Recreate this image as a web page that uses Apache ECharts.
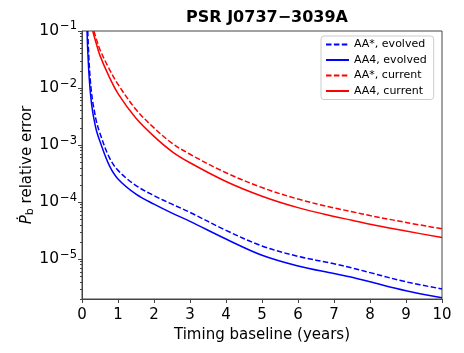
<!DOCTYPE html>
<html><head><meta charset="utf-8">
<script src="https://cdn.jsdelivr.net/npm/echarts@6/dist/echarts.min.js"></script>
<style>html,body{margin:0;padding:0;background:#fff}#c{width:464px;height:353px}</style>
</head><body><div id="c"></div>
<script>
const years = [0.14,0.16,0.2,0.25,0.3,0.33,0.4,0.5,0.75,1,1.5,2,2.5,3,4,5,6,7,7.5,8,9,10];
const aaStarEvolved = [null,0.1,2.6e-2,1.0e-2,5.6e-3,4.4e-3,2.6e-3,1.6e-3,6.2e-4,3.6e-4,1.95e-4,1.3e-4,9.2e-5,6.6e-5,3.2e-5,1.7e-5,1.12e-5,8.3e-6,7.0e-6,5.8e-6,4.0e-6,3.0e-6];
const aa4Evolved = [0.1,0.045,1.5e-2,6.4e-3,3.7e-3,2.9e-3,1.8e-3,1.15e-3,4.5e-4,2.55e-4,1.38e-4,9.2e-5,6.4e-5,4.6e-5,2.25e-5,1.17e-5,7.6e-6,5.6e-6,4.8e-6,4.0e-6,2.8e-6,2.1e-6];
const aaStarCurrent = [null,null,null,null,null,0.1,7.2e-2,4.7e-2,2.2e-2,1.16e-2,4.2e-3,2.0e-3,1.08e-3,6.9e-4,3.27e-4,1.8e-4,1.13e-4,7.9e-5,6.8e-5,5.8e-5,4.4e-5,3.4e-5];
const aa4Current = [null,null,null,null,0.1,8.4e-2,5.9e-2,3.7e-2,1.6e-2,8.0e-3,2.95e-3,1.42e-3,7.7e-4,4.9e-4,2.3e-4,1.27e-4,8.0e-5,5.6e-5,4.8e-5,4.1e-5,3.1e-5,2.4e-5];
const seriesNames = ['AA*, evolved','AA4, evolved','AA*, current','AA4, current'];
const yMajor = [1e-5,1e-4,1e-3,1e-2,1e-1];
const yMinor = [];
for (let e=-6;e<=-2;e++) for (let m=2;m<=9;m++){ const v=m*Math.pow(10,e); if (v>=2e-6 && v<=0.1) yMinor.push(v); }

const pair = arr => years.map((x,i)=> arr[i]==null ? null : [x, arr[i]]).filter(p=>p);
const FONT = 'DejaVu Sans';
const frame = '#444';
const chart = echarts.init(document.getElementById('c'), null, {renderer:'canvas'});
const mk = (name, arr, color, dashed) => ({
  name, type:'line', data: pair(arr), xAxisIndex:0, yAxisIndex:0,
  showSymbol:false, symbol:'none', smooth:0.35, connectNulls:true,
  lineStyle:{color, width:1.5, type: dashed ? [5.5,2.4] : 'solid'},
  itemStyle:{color}, clip:true, animation:false
});
chart.setOption({
  animation:false,
  title:{text:'PSR J0737\u22123039A', left:262, top:5, textAlign:'center',
    textStyle:{fontFamily:FONT, fontSize:16, fontWeight:'bold', color:'#000'}},
  grid:[
    {left:82, right:22, top:31, bottom:54, show:true, borderColor:frame, borderWidth:1, backgroundColor:'transparent'},
    {left:82, right:22, top:31, bottom:54, show:false}
  ],
  legend:{
    orient:'vertical', left:321, top:36, itemWidth:23, itemHeight:13, itemGap:4.5,
    data:seriesNames,
    itemStyle:{opacity:0},
    textStyle:{fontFamily:FONT, fontSize:11, color:'#000'},
    backgroundColor:'rgba(255,255,255,0.8)', borderColor:'#ccc', borderWidth:1, borderRadius:3,
    padding:[3,7,3,4]
  },
  xAxis:[
    {type:'value', gridIndex:0, min:0, max:10, interval:1,
     name:'Timing baseline (years)', nameLocation:'middle', nameGap:27,
     nameTextStyle:{fontFamily:FONT, fontSize:15, color:'#000'},
     axisLine:{lineStyle:{color:frame, width:1}}, axisTick:{length:4, lineStyle:{color:frame}},
     axisLabel:{fontFamily:FONT, fontSize:15, color:'#000', margin:9}, splitLine:{show:false}},
    {type:'value', gridIndex:1, min:0, max:10, show:false}
  ],
  yAxis:[
    {type:'log', gridIndex:0, logBase:10, min:2e-6, max:0.1,
     name:'{p|P\u0307}{b|b}{t| relative error}', nameLocation:'middle', nameGap:46, nameRotate:90,
     nameMoveOverlap:false,
     nameTextStyle:{fontFamily:FONT, fontSize:15, color:'#000',
       rich:{p:{fontFamily:FONT,fontSize:15,fontStyle:'italic',color:'#000'},
             b:{fontFamily:FONT,fontSize:11,color:'#000',padding:[6,0,0,0]},
             t:{fontFamily:FONT,fontSize:15,color:'#000'}}},
     axisLine:{lineStyle:{color:frame, width:1}},
     axisTick:{length:4, lineStyle:{color:frame}, customValues:yMajor},
     axisLabel:{customValues:yMajor, margin:5,
       formatter: v => { const e = Math.round(Math.log10(v)); return '{n|10}{s|\u2212' + Math.abs(e) + '}'; },
       rich:{n:{fontFamily:FONT,fontSize:15.5,color:'#000'}, s:{fontFamily:FONT,fontSize:11.5,color:'#000',padding:[0,0,9,1]}}},
     splitLine:{show:false}},
    {type:'log', gridIndex:1, logBase:10, min:2e-6, max:0.1,
     axisLine:{show:false}, axisLabel:{show:false}, splitLine:{show:false},
     axisTick:{show:true, length:2, lineStyle:{color:frame}, customValues:yMinor}}
  ],
  series:[
    mk(seriesNames[0], aaStarEvolved, '#0000ff', true),
    mk(seriesNames[1], aa4Evolved, '#0000ff', false),
    mk(seriesNames[2], aaStarCurrent, '#ff0000', true),
    mk(seriesNames[3], aa4Current, '#ff0000', false)
  ]
});
</script></body></html>
